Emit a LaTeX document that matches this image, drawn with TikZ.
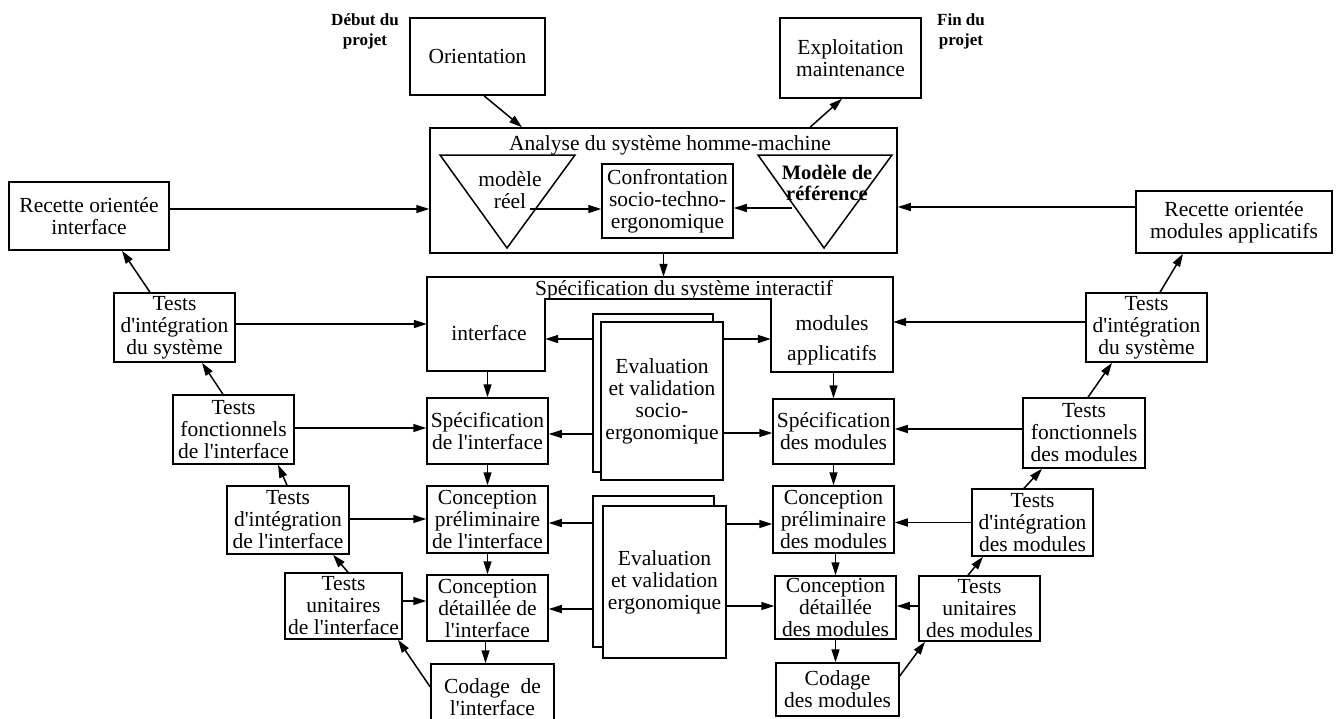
\documentclass[tikz,border=0pt]{standalone}
\usepackage{fontspec}
\setmainfont{Liberation Serif}[Ligatures=TeXOff]
\usetikzlibrary{arrows.meta}
\begin{document}
\begin{tikzpicture}[x=1pt,y=-1pt,
  every node/.style={font=\fontsize{21.5}{22}\selectfont, align=center, inner sep=0pt},
  box/.style={draw, line width=1.5pt, fill=white},
  zone/.style={draw=none, inner sep=0pt},
  tag/.style={font=\fontsize{17}{20}\selectfont\bfseries},
  arr/.style={line width=1.5pt, -{Triangle[length=13pt,width=8pt]}},
  edge/.style={line width=1.5pt}]
\fill[white] (0,0) rectangle (1340,718);
\useasboundingbox (0,0) rectangle (1340,718);

% --- project start / end
\node[tag] (debut) at (365,31) {Début du\\projet};
\node[tag] (fin) at (961,31) {Fin du\\projet};
\node[box, minimum width=135pt, minimum height=77pt] (orient) at (477.5,56.5) {Orientation};
\node[box, minimum width=141pt, minimum height=80pt] (exploit) at (850.5,58) {Exploitation\\maintenance};

% --- analysis of the human-machine system
\node[box, minimum width=467pt, minimum height=125pt] (analysis) at (663.5,190.5) {};
\node (antitle) at (670,145) {Analyse du système homme-machine};
\draw[edge] (440,155) -- (575,155) -- (507,248) -- cycle;
\draw[edge] (758,155) -- (892,155) -- (824,248) -- cycle;
\node (reel) at (510,190) {modèle\\réel};
\node[font=\fontsize{20.5}{21}\selectfont\bfseries] (ref) at (827,183) {Modèle de\\référence};
\node[box, minimum width=131pt, minimum height=74pt] (conf) at (667.5,201) {Confrontation\\socio-techno-\\ergonomique};
\coordinate (mr) at (530,209);
\coordinate (mref) at (792,208);
\draw[arr] (mr) -- (mr -| conf.west);
\draw[arr] (mref) -- (mref -| conf.east);

% --- specification of the interactive system (notched outline)
\draw[edge] (427,371) -- (427,277) -- (893,277) -- (893,372) -- (771,372)
  -- (771,299) -- (545,299) -- (545,371) -- cycle;
\node[zone, minimum width=466pt, minimum height=95pt] (spec) at (660,324.5) {};
\node[zone, minimum width=118pt, minimum height=94pt] (specI) at (486,324) {};
\node[zone, minimum width=122pt, minimum height=95pt] (specM) at (832,324.5) {};
\node (spectitle) at (684,290) {Spécification du système interactif};
\node (specItext) at (489,333) {interface};
\node[font=\fontsize{21.5}{30}\selectfont] (specMtext) at (832,340) {modules\\applicatifs};

% --- evaluation stacks
\node[box, minimum width=120pt, minimum height=158pt] (s1b) at (653,393) {};
\node[box, minimum width=122pt, minimum height=158pt] (s1f) at (662,401) {Evaluation\\et validation\\socio-\\ergonomique};
\node[box, minimum width=121pt, minimum height=151pt] (s2b) at (653.5,571.5) {};
\node[box, minimum width=123pt, minimum height=152pt] (s2f) at (664.5,582) {Evaluation\\et validation\\ergonomique};

% --- interface branch
\node[box, minimum width=121pt, minimum height=66pt] (specIf) at (487.5,431) {Spécification\\de l'interface};
\node[box, minimum width=121pt, minimum height=67pt] (cpI) at (487.5,519.5) {Conception\\préliminaire\\de l'interface};
\node[box, minimum width=121pt, minimum height=66pt] (cdI) at (487.5,608) {Conception\\détaillée de\\l'interface};
\node[box, minimum width=123pt, minimum height=66pt] (codI) at (492.5,697) {Codage~~de\\l'interface};

% --- modules branch
\node[box, minimum width=121pt, minimum height=65pt] (specMf) at (833.5,431.5) {Spécification\\des modules};
\node[box, minimum width=121pt, minimum height=67pt] (cpM) at (833.5,519.5) {Conception\\préliminaire\\des modules};
\node[box, minimum width=121pt, minimum height=63pt] (cdM) at (835.5,607.5) {Conception\\détaillée\\des modules};
\node[box, minimum width=123pt, minimum height=53pt] (codM) at (837.5,689.5) {Codage\\des modules};

% --- interface tests
\node[box, minimum width=160pt, minimum height=68pt] (recI) at (89,216) {Recette orientée\\interface};
\node[box, minimum width=121pt, minimum height=69pt] (tisI) at (174.5,327.5) {Tests\\d'intégration\\du système};
\node[box, minimum width=121pt, minimum height=69pt] (tfI) at (233.5,429.5) {Tests\\fonctionnels\\de l'interface};
\node[box, minimum width=122pt, minimum height=68pt] (tiI) at (288,520) {Tests\\d'intégration\\de l'interface};
\node[box, minimum width=117pt, minimum height=66pt] (tuI) at (343.5,606) {Tests\\unitaires\\de l'interface};

% --- module tests
\node[box, minimum width=196pt, minimum height=62pt] (recM) at (1234,222) {Recette orientée\\modules applicatifs};
\node[box, minimum width=121pt, minimum height=69pt] (tisM) at (1146.5,327.5) {Tests\\d'intégration\\du système};
\node[box, minimum width=122pt, minimum height=70pt] (tfM) at (1084,433) {Tests\\fonctionnels\\des modules};
\node[box, minimum width=121pt, minimum height=67pt] (tiM) at (1032.5,522.5) {Tests\\d'intégration\\des modules};
\node[box, minimum width=121pt, minimum height=65pt] (tuM) at (979.5,608.5) {Tests\\unitaires\\des modules};

% --- top connectors
\draw[arr] ([xshift=6.5pt]orient.south) -- ([xshift=-141.5pt]analysis.north);
\draw[arr] ([xshift=146.5pt]analysis.north) -- ([xshift=-8.5pt]exploit.south);
\draw[arr] (analysis.south) -- (analysis.south |- spec.north);

% --- descending chains
\draw[arr] (specIf.north |- specI.south) -- (specIf.north);
\draw[arr] (specIf.south) -- (cpI.north);
\draw[arr] (cpI.south) -- (cdI.north);
\draw[arr] ([xshift=-2pt]cdI.south) -- ([xshift=-2pt]cdI.south |- codI.north);
\draw[arr] (specMf.north |- specM.south) -- (specMf.north);
\draw[arr] (specMf.south) -- (specMf.south |- cpM.north);
\draw[arr] ([xshift=2pt]cpM.south) -- ([xshift=2pt]cpM.south |- cdM.north);
\draw[arr] (cdM.south) -- (cdM.south |- codM.north);

% --- horizontal feeds from the test boxes
\coordinate (h1) at ([yshift=7pt]recI.east);
\coordinate (h2) at ([yshift=15pt]recM.west);
\coordinate (h3) at ([yshift=3.5pt]tisI.east);
\coordinate (h4) at ([yshift=5.5pt]tisM.west);
\coordinate (h5) at ([yshift=1.5pt]tfI.east);
\coordinate (h6) at ([yshift=4pt]tfM.west);
\coordinate (h7) at ([yshift=1pt]tiI.east);
\coordinate (h8) at (tiM.west);
\coordinate (h9) at ([yshift=5pt]tuI.east);
\coordinate (h10) at ([yshift=2.5pt]tuM.west);
\draw[arr] (h1) -- (h1 -| analysis.west);
\draw[arr] (h2) -- (h2 -| analysis.east);
\draw[arr] (h3) -- (h3 -| spec.west);
\draw[arr] (h4) -- (h4 -| spec.east);
\draw[arr] (h5) -- (h5 -| specIf.west);
\draw[arr] (h6) -- (h6 -| specMf.east);
\draw[arr] (h7) -- (h7 -| cpI.west);
\draw[arr] (h8) -- (h8 -| cpM.east);
\draw[arr] (h9) -- (h9 -| cdI.west);
\draw[arr] (h10) -- (h10 -| cdM.east);

% --- evaluation feedback
\coordinate (e1) at ([yshift=54pt]s1b.west);
\coordinate (e2) at ([yshift=-41pt]s1b.west);
\coordinate (e3) at ([yshift=62pt]s1f.east);
\coordinate (e4) at ([yshift=-32pt]s1f.east);
\coordinate (e5) at ([yshift=48.5pt]s2b.west);
\coordinate (e6) at ([yshift=-37.5pt]s2b.west);
\coordinate (e7) at ([yshift=58pt]s2f.east);
\coordinate (e8) at ([yshift=-24pt]s2f.east);
\draw[arr] (e1) -- (e1 -| specI.east);
\draw[arr] (e2) -- (e2 -| specIf.east);
\draw[arr] (e3) -- (e3 -| specM.west);
\draw[arr] (e4) -- (e4 -| specMf.west);
\draw[arr] (e5) -- (e5 -| cpI.east);
\draw[arr] (e6) -- (e6 -| cdI.east);
\draw[arr] (e7) -- (e7 -| cpM.west);
\draw[arr] (e8) -- (e8 -| cdM.west);

% --- ascending test chains
\draw[arr] ([yshift=10pt]codI.west) -- ([xshift=54.5pt]tuI.south);
\draw[arr] ([xshift=4.5pt]tuI.north) -- ([xshift=45pt]tiI.south);
\draw[arr] ([xshift=-1pt]tiI.north) -- ([xshift=44.5pt]tfI.south);
\draw[arr] ([xshift=-10.5pt]tfI.north) -- ([xshift=27.5pt]tisI.south);
\draw[arr] ([xshift=-24.5pt]tisI.north) -- ([xshift=33pt]recI.south);
\draw[arr] ([yshift=13.5pt]codM.east) -- ([xshift=-54.5pt]tuM.south);
\draw[arr] ([xshift=-11.5pt]tuM.north) -- ([xshift=-49.5pt]tiM.south);
\draw[arr] ([xshift=-8.5pt]tiM.north) -- ([xshift=-42pt]tfM.south);
\draw[arr] ([xshift=4pt]tfM.north) -- ([xshift=-34.5pt]tisM.south);
\draw[arr] ([xshift=13.5pt]tisM.north) -- ([xshift=-51pt]recM.south);
\end{tikzpicture}
\end{document}
